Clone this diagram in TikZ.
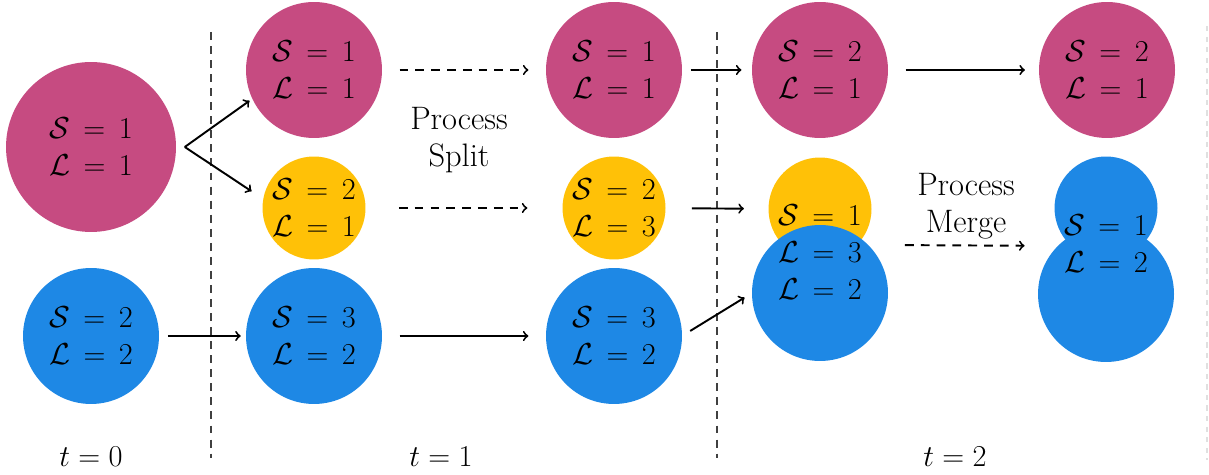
\documentclass[tikz,border=0pt]{standalone}
\definecolor{procpink}{HTML}{C64B81}
\definecolor{procamber}{HTML}{FFC107}
\definecolor{procblue}{HTML}{1E88E5}
\newcommand\widerel{\thickmuskip=8mu plus 3mu\relax}
\begin{document}
\begin{tikzpicture}[x=0.02cm,y=-0.02cm,every node/.style={font=\fontsize{18.5}{21}\selectfont,align=center},
  state/.style={font=\fontsize{18.5}{21}\selectfont\widerel},
  proc/.style={state,circle,inner sep=0pt,outer sep=0pt,minimum size=2.72cm},
  bigproc/.style={proc,minimum size=3.4cm},
  smallproc/.style={proc,minimum size=2.06cm},
  flow/.style={->,line width=1.1pt},
  later/.style={flow,dash pattern=on 5pt off 4pt},
  cut/.style={black!75,line width=0.7pt,dash pattern=on 4.5pt off 3.5pt}]
\useasboundingbox (0,0) rectangle (1209,475);
% t = 0
\node[bigproc,fill=procpink] (p0) at (91,147) {$\mathcal{S} = 1$\\$\mathcal{L} = 1$};
\node[proc,fill=procblue] (b0) at (91,336) {$\mathcal{S} = 2$\\$\mathcal{L} = 2$};
% t = 1
\node[proc,fill=procpink] (p1) at (314,70) {$\mathcal{S} = 1$\\$\mathcal{L} = 1$};
\node[smallproc,fill=procamber] (y1) at (314,208) {$\mathcal{S} = 2$\\$\mathcal{L} = 1$};
\node[proc,fill=procblue] (b1) at (314,336) {$\mathcal{S} = 3$\\$\mathcal{L} = 2$};
\node[proc,fill=procpink] (p1b) at (614,70) {$\mathcal{S} = 1$\\$\mathcal{L} = 1$};
\node[smallproc,fill=procamber] (y1b) at (614,208) {$\mathcal{S} = 2$\\$\mathcal{L} = 3$};
\node[proc,fill=procblue] (b1b) at (614,336) {$\mathcal{S} = 3$\\$\mathcal{L} = 2$};
% t = 2
\node[proc,fill=procpink] (p2) at (820,70) {$\mathcal{S} = 2$\\$\mathcal{L} = 1$};
\node[smallproc,fill=procamber] (y2) at (820,209) {};
\node[proc,fill=procblue] (b2) at (820,293) {};
\node[state] (m2) at (820,252) {$\mathcal{S} = 1$\\$\mathcal{L} = 3$\\$\mathcal{L} = 2$};
\node[proc,fill=procpink] (p2b) at (1107,70) {$\mathcal{S} = 2$\\$\mathcal{L} = 1$};
\node[smallproc,fill=procblue] (ym2) at (1106,208) {};
\node[proc,fill=procblue] (bm2) at (1106,294) {};
\node[state] (mm2) at (1106,244) {$\mathcal{S} = 1$\\$\mathcal{L} = 2$};
% labels
\node (split) at (459,140) {Process\\Split};
\node (merge) at (966,206) {Process\\Merge};
\node (t0) at (91,457) {$t = 0$};
\node (t1) at (441,457) {$t = 1$};
\node (t2) at (955,457) {$t = 2$};
% time cuts
\coordinate (cut1a) at (211,32); \coordinate (cut1b) at (211,458);
\coordinate (cut2a) at (717,32); \coordinate (cut2b) at (717,458);
\coordinate (edgea) at (1207,26); \coordinate (edgeb) at (1207,460);
\draw[cut] (cut1a)--(cut1b);
\draw[cut] (cut2a)--(cut2b);
\draw[black!12,line width=0.6pt,dash pattern=on 3pt off 3pt] (edgea)--(edgeb);
% arrows
\coordinate (fork) at ([xshift=5pt]p0.east);
\foreach \u/\v/\a/\b in {fork/p1.205/0/2,fork/y1.170/0/8,b0/b1/5/3,b1/b1b/10/10,p1b/p2/5/6,y1b/y2/15/14,b1b.east/b2.west/5.5/5,p2/p2b/10/8}
  \draw[flow,shorten <=\a pt,shorten >=\b pt] (\u)--(\v);
\foreach \u/\v/\a/\b in {p1/p1b/10/10,y1/y1b/19/20,b2.north east/bm2.north west/21/19}
  \draw[later,shorten <=\a pt,shorten >=\b pt] (\u)--(\v);
\end{tikzpicture}
\end{document}
